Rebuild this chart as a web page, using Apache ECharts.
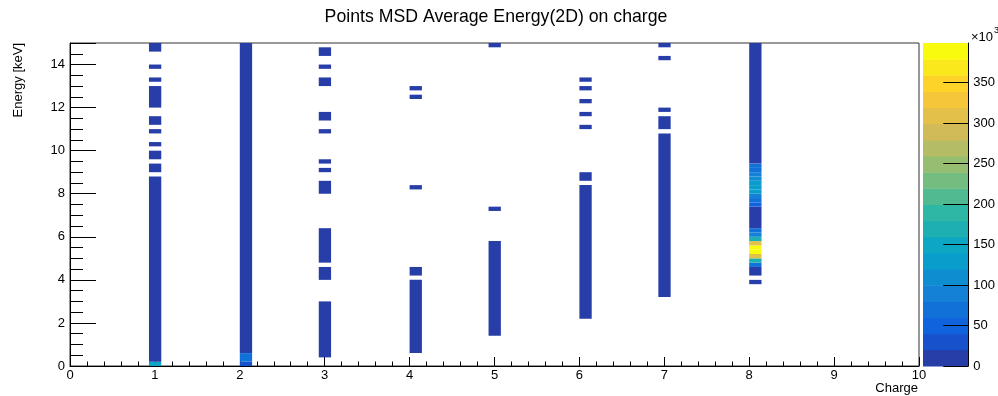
<!DOCTYPE html>
<html>
<head>
<meta charset="utf-8">
<script src="https://cdn.jsdelivr.net/npm/echarts@6/dist/echarts.min.js"></script>
<style>
  html, body { margin: 0; padding: 0; background: #fff; }
  #chart { width: 998px; height: 396px; }
</style>
</head>
<body>
<div id="chart"></div>
<script>
const FONT = '"Liberation Sans", Arial, Helvetica, sans-serif';

// Charge bins along x: each charge occupies one narrow bin
const charges       = [1, 2, 3, 4, 5, 6, 7, 8];
const chargeBinLow  = [0.93, 2.00, 2.93, 4.00, 4.93, 6.00, 6.93, 8.00];
const chargeBinHigh = [1.075, 2.145, 3.075, 4.145, 5.075, 6.145, 7.075, 8.145];

// Filled energy ranges per charge: [E low (keV), E high (keV), entries ×10³]
const energyZ1 = [[0, 0.2, 140], [0.2, 8.8, 6], [9.0, 9.4, 6], [9.6, 10.0, 6], [10.2, 10.4, 6],
                  [10.8, 11.0, 6], [11.2, 11.6, 6], [12.0, 13.0, 6], [13.2, 13.4, 6],
                  [13.8, 14.0, 6], [14.6, 15.0, 6]];
const energyZ2 = [[0, 0.2, 25], [0.2, 0.6, 70], [0.6, 15.0, 8]];
const energyZ3 = [[0.4, 3.0, 5], [4.0, 4.6, 5], [4.8, 6.4, 5], [8.0, 8.6, 5], [9.0, 9.2, 5],
                  [9.4, 9.6, 5], [10.8, 11.0, 5], [11.4, 11.8, 5], [13.0, 13.4, 5],
                  [13.8, 14.0, 5], [14.4, 14.8, 5]];
const energyZ4 = [[0.6, 4.0, 5], [4.2, 4.6, 5], [8.2, 8.4, 5], [12.4, 12.6, 5], [12.8, 13.0, 5]];
const energyZ5 = [[1.4, 5.8, 5], [7.2, 7.4, 5], [14.8, 15.0, 5]];
const energyZ6 = [[2.2, 8.4, 5], [8.6, 9.0, 5], [11.0, 11.2, 5], [11.6, 11.8, 5], [12.2, 12.4, 5],
                  [12.8, 13.0, 5], [13.2, 13.4, 5]];
const energyZ7 = [[3.2, 10.8, 5], [11.0, 11.6, 5], [11.8, 12.0, 5], [14.2, 14.4, 5], [14.8, 15.0, 5]];
const energyZ8 = [[3.8, 4.0, 10], [4.2, 4.6, 15], [4.6, 4.8, 70], [4.8, 5.0, 160], [5.0, 5.2, 300],
                  [5.2, 5.4, 385], [5.4, 5.6, 399], [5.6, 5.8, 300], [5.8, 6.0, 170],
                  [6.0, 6.2, 80], [6.2, 6.4, 60], [6.4, 7.4, 12], [7.4, 7.6, 55], [7.6, 7.8, 70],
                  [7.8, 8.0, 95], [8.0, 8.2, 120], [8.2, 8.4, 130], [8.4, 8.6, 125],
                  [8.6, 8.8, 110], [8.8, 9.0, 95], [9.0, 9.2, 75], [9.2, 9.4, 60], [9.4, 15.0, 12]];
const energyByCharge = [energyZ1, energyZ2, energyZ3, energyZ4, energyZ5, energyZ6, energyZ7, energyZ8];

// Colour scale (×10³)
const zMax = 399;
const zTickValues = [0, 50, 100, 150, 200, 250, 300, 350];
const nContours = 20;

// "Bird" palette stops
const birdStops = [0, 0.125, 0.25, 0.375, 0.5, 0.625, 0.75, 0.875, 1];
const birdR = [0.2082, 0.0592, 0.0780, 0.0232, 0.1802, 0.5301, 0.8186, 0.9956, 0.9764];
const birdG = [0.1664, 0.3599, 0.5041, 0.6419, 0.7178, 0.7492, 0.7328, 0.7862, 0.9832];
const birdB = [0.5293, 0.8684, 0.8385, 0.7914, 0.6425, 0.4662, 0.3499, 0.1968, 0.0539];

function birdColor(t) {
  let k = 0;
  while (k < birdStops.length - 2 && t > birdStops[k + 1]) k++;
  const f = (t - birdStops[k]) / (birdStops[k + 1] - birdStops[k]);
  const ch = arr => Math.round(255 * (arr[k] + f * (arr[k + 1] - arr[k])));
  return 'rgb(' + ch(birdR) + ',' + ch(birdG) + ',' + ch(birdB) + ')';
}
function bandColor(i) {
  const idx = Math.min(254, Math.floor((i + 0.99) * 255 / nContours));
  return birdColor(idx / 254);
}
function zColor(v) {
  const i = Math.max(0, Math.min(nContours - 1, Math.floor(v / (zMax / nContours))));
  return bandColor(i);
}

// Cells: [x low, x high, E low, E high, value]
const cells = [];
charges.forEach((z, ci) => {
  energyByCharge[ci].forEach(r => {
    cells.push([chargeBinLow[ci], chargeBinHigh[ci], r[0], r[1], r[2]]);
  });
});

// Colour-bar bands: [0, 1, low, high, band]
const bands = [];
for (let i = 0; i < nContours; i++) {
  bands.push([0, 1, i * zMax / nContours, (i + 1) * zMax / nContours, i]);
}

function renderCell(params, api) {
  const p0 = api.coord([api.value(0), api.value(3)]);
  const p1 = api.coord([api.value(1), api.value(2)]);
  return {
    type: 'rect',
    shape: { x: p0[0], y: p0[1], width: p1[0] - p0[0], height: p1[1] - p0[1] },
    style: { fill: zColor(api.value(4)) }
  };
}
function renderBand(params, api) {
  const p0 = api.coord([api.value(0), api.value(3)]);
  const p1 = api.coord([api.value(1), api.value(2)]);
  return {
    type: 'rect',
    shape: { x: p0[0], y: p0[1], width: p1[0] - p0[0], height: p1[1] - p0[1] + 0.5 },
    style: { fill: bandColor(api.value(4)) }
  };
}

const labelStyle = { color: '#000', fontFamily: FONT, fontSize: 13 };
const chart = echarts.init(document.getElementById('chart'), null, { renderer: 'canvas' });

chart.setOption({
  animation: false,
  backgroundColor: '#fff',
  grid: [
    { left: 70, top: 43, width: 849, height: 323, show: true,
      borderColor: '#333', borderWidth: 1, backgroundColor: 'transparent' },
    { left: 923, top: 43, width: 48, height: 323 }
  ],
  xAxis: [
    {
      type: 'value', gridIndex: 0, min: 0, max: 10, interval: 1,
      axisLine: { show: true, onZero: false, lineStyle: { color: '#000', width: 1 } },
      axisTick: { show: true, inside: true, length: 9, lineStyle: { color: '#000' } },
      minorTick: { show: true, splitNumber: 5, length: 4.5, lineStyle: { color: '#000' } },
      axisLabel: Object.assign({ margin: 3, showMinLabel: true, showMaxLabel: true }, labelStyle),
      splitLine: { show: false }
    },
    { type: 'value', gridIndex: 1, min: 0, max: 1, show: false }
  ],
  yAxis: [
    {
      type: 'value', gridIndex: 0, min: 0, max: 15, interval: 2,
      axisLine: { show: true, onZero: false, lineStyle: { color: '#000', width: 1 } },
      axisTick: { show: true, inside: true, length: 26, lineStyle: { color: '#000' } },
      minorTick: { show: true, splitNumber: 4, length: 13, lineStyle: { color: '#000' } },
      axisLabel: Object.assign({ margin: 5, showMaxLabel: false }, labelStyle),
      splitLine: { show: false }
    },
    {
      type: 'value', gridIndex: 1, position: 'right', min: 0, max: zMax, interval: 50,
      z: 5,
      axisLine: { show: true, onZero: false, lineStyle: { color: '#000', width: 1 } },
      axisTick: { show: true, inside: true, length: 25, lineStyle: { color: '#000' } },
      axisLabel: Object.assign({ margin: 5, showMaxLabel: false }, labelStyle),
      splitLine: { show: false }
    }
  ],
  series: [
    {
      type: 'custom', xAxisIndex: 0, yAxisIndex: 0,
      renderItem: renderCell, data: cells, clip: true,
      encode: { x: [0, 1], y: [2, 3] }
    },
    {
      type: 'custom', xAxisIndex: 1, yAxisIndex: 1, z: 1,
      renderItem: renderBand, data: bands, clip: false,
      encode: { x: [0, 1], y: [2, 3] }
    }
  ],
  graphic: [
    { type: 'text', x: 496, y: 17,
      style: { text: 'Points MSD Average Energy(2D) on charge', fill: '#000',
               font: '17.7px ' + FONT, align: 'center', verticalAlign: 'middle' } },
    { type: 'text', x: 18.5, y: 43, rotation: Math.PI / 2,
      style: { text: 'Energy [keV]', fill: '#000', font: '13px ' + FONT,
               align: 'right', verticalAlign: 'middle' } },
    { type: 'text', x: 918, y: 388,
      style: { text: 'Charge', fill: '#000', font: '13px ' + FONT,
               align: 'right', verticalAlign: 'middle' } },
    { type: 'text', x: 971, y: 37,
      style: { text: '×10', fill: '#000', font: '13px ' + FONT,
               align: 'left', verticalAlign: 'middle' } },
    { type: 'text', x: 994, y: 31,
      style: { text: '3', fill: '#000', font: '9px ' + FONT,
               align: 'left', verticalAlign: 'middle' } }
  ]
});
</script>
</body>
</html>
